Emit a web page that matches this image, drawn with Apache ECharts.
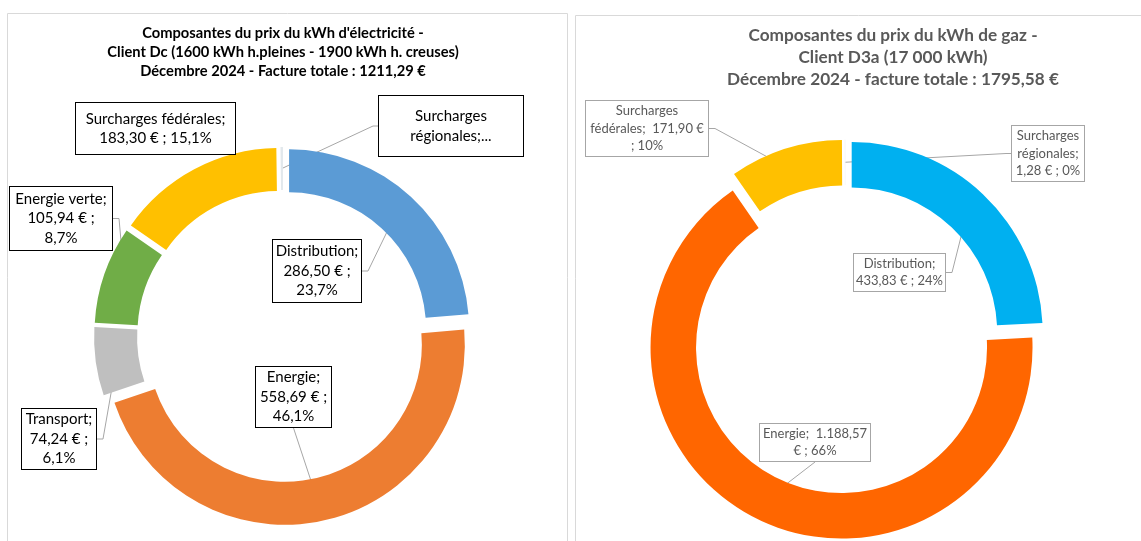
<!DOCTYPE html>
<html>
<head>
<meta charset="utf-8">
<script src="https://cdn.jsdelivr.net/npm/echarts@6/dist/echarts.min.js"></script>
<style>
html, body { margin: 0; padding: 0; background: #fff; }
#chart { width: 1141px; height: 541px; }
</style>
</head>
<body>
<div id="chart"></div>
<script>
// électricité - client Dc
const elecNames = ['Distribution', 'Energie', 'Transport', 'Energie verte', 'Surcharges fédérales', 'Surcharges régionales']
const elecValues = [286.50, 558.69, 74.24, 105.94, 183.30, 2.62]
const elecColors = ['#5B9BD5', '#ED7D31', '#BFBFBF', '#70AD47', '#FFC000', '#E2E8EC']

// gaz - client D3a
const gazNames = ['Distribution', 'Energie', 'Surcharges fédérales', 'Surcharges régionales']
const gazValues = [433.83, 1188.57, 171.90, 1.28]
const gazColors = ['#00B0F0', '#FF6600', '#FFC000', '#F4F4F4']

const elecTitle = "Composantes du prix du kWh d'électricité -\nClient Dc (1600 kWh h.pleines - 1900 kWh h. creuses)\nDécembre 2024 - Facture totale : 1211,29 €"
const gazTitle = 'Composantes du prix du kWh de gaz -\nClient D3a (17 000 kWh)\nDécembre 2024 - facture totale : 1795,58 €'

// modèles d'étiquettes : {n} nom, {v} valeur, {p} pourcentage
const elecLabelTpl = [
  '{n};\n{v} € ;\n{p}%',
  '{n};\n{v} € ;\n{p}%',
  '{n};\n{v} € ;\n{p}%',
  '{n};\n{v} € ;\n{p}%',
  '{n};\n{v} € ; {p}%',
  'Surcharges\nrégionales;...'
]
const gazLabelTpl = [
  '{n};\n{v} € ; {p}%',
  '{n};  {v}\n€ ; {p}%',
  'Surcharges\nfédérales;  {v} €\n; {p}%',
  'Surcharges\nrégionales;\n{v} € ; {p}%'
]

// boîtes des étiquettes : [x, y, largeur, hauteur, côté du trait]
const elecBoxes = [
  [272, 239, 90, 64, 'right'],
  [255, 366, 77, 62, 'bottom'],
  [21, 408, 76, 62, 'right'],
  [9, 186, 104, 65, 'right'],
  [75, 102, 161, 53, 'none'],
  [378, 95, 146, 62, 'left']
]
const gazBoxes = [
  [853, 253, 93, 39, 'right'],
  [759, 423, 112, 39, 'bottom'],
  [585, 100, 124, 57, 'right'],
  [1011, 125, 74, 57, 'left']
]

const explode = 9

const fmtNum = (v) => v.toLocaleString('de-DE', { minimumFractionDigits: 2, maximumFractionDigits: 2 })

// anneau éclaté (sans étiquettes)
function ringData (names, values, colors) {
  return names.map((n, i) => ({
    name: n,
    value: values[i],
    selected: true,
    itemStyle: { color: colors[i] }
  }))
}

// même anneau, transparent, qui porte les étiquettes
function labelData (names, values, tpl, boxes, digits, lineH) {
  const total = values.reduce((a, b) => a + b, 0)
  return names.map((n, i) => {
    const p = (values[i] / total * 100).toFixed(digits).replace('.', ',')
    const text = tpl[i].replace('{n}', n).replace('{v}', fmtNum(values[i])).replace('{p}', p)
    const lines = text.split('\n').length
    const b = boxes[i]
    const padY = Math.max(0, (b[3] - lines * lineH) / 2 - 1)
    return {
      name: n,
      value: values[i],
      label: { formatter: text, width: b[2] - 2, padding: [padY, 0] },
      labelLine: { show: b[4] !== 'none' }
    }
  })
}

const chart = echarts.init(document.getElementById('chart'))

function makeLayout (si, boxes) {
  return function (params) {
    const b = boxes[params.dataIndex]
    const lay = chart.getModel().getSeriesByIndex(si).getData().getItemLayout(params.dataIndex)
    const mid = (lay.startAngle + lay.endAngle) / 2
    const rr = (lay.r + lay.r0) / 2 + explode
    const ax = lay.cx + rr * Math.cos(mid)
    const ay = lay.cy + rr * Math.sin(mid)
    const x0 = b[0], y0 = b[1], w = b[2], h = b[3]
    let pts
    if (b[4] === 'right') {
      pts = [[x0 + w, y0 + h / 2], [x0 + w + 6, y0 + h / 2], [ax, ay]]
    } else if (b[4] === 'left') {
      pts = [[x0, y0 + h / 2], [x0 - 5, y0 + h / 2], [ax, ay]]
    } else if (b[4] === 'bottom') {
      pts = [[x0 + w / 2, y0 + h], [x0 + w / 2, y0 + h], [ax, ay]]
    } else {
      pts = [[x0, y0], [x0, y0], [x0, y0]]
    }
    return {
      x: x0 + w / 2,
      y: y0 + h / 2,
      align: 'center',
      verticalAlign: 'middle',
      labelLinePoints: pts
    }
  }
}

function ringSeries (center, radius, data) {
  return {
    type: 'pie',
    center: center,
    radius: radius,
    startAngle: 90,
    selectedMode: 'multiple',
    selectedOffset: explode,
    silent: true,
    emphasis: { disabled: true },
    label: { show: false },
    labelLine: { show: false },
    data: data
  }
}

function labelSeries (center, radius, si, boxes, data, font) {
  return {
    type: 'pie',
    center: center,
    radius: radius,
    startAngle: 90,
    silent: true,
    avoidLabelOverlap: false,
    emphasis: { disabled: true },
    itemStyle: { color: 'rgba(0,0,0,0)' },
    label: Object.assign({
      show: true,
      fontFamily: 'Lato',
      align: 'center',
      backgroundColor: '#fff',
      borderWidth: 1
    }, font),
    labelLine: { show: true, lineStyle: { color: '#a6a6a6', width: 1 } },
    labelLayout: makeLayout(si, boxes),
    data: data
  }
}

const options = {
  animation: false,
  title: [
    {
      text: elecTitle,
      left: 283,
      top: 24,
      textAlign: 'center',
      padding: 0,
      textStyle: { fontFamily: 'Lato', fontSize: 14.7, fontWeight: 'bold', color: '#000', lineHeight: 19 }
    },
    {
      text: gazTitle,
      left: 893,
      top: 24,
      textAlign: 'center',
      padding: 0,
      textStyle: { fontFamily: 'Lato', fontSize: 17.2, fontWeight: 'bold', color: '#595959', lineHeight: 22 }
    }
  ],
  // cadres des deux graphiques
  graphic: [
    { type: 'rect', shape: { x: 7.5, y: 13.5, width: 560, height: 600 }, style: { fill: 'none', stroke: '#d9d9d9', lineWidth: 1 }, silent: true },
    { type: 'rect', shape: { x: 575.5, y: 15.5, width: 700, height: 600 }, style: { fill: 'none', stroke: '#d9d9d9', lineWidth: 1 }, silent: true }
  ],
  series: [
    ringSeries([283, 336], [137, 180], ringData(elecNames, elecValues, elecColors)),
    ringSeries([845.5, 339.5], [145.5, 191], ringData(gazNames, gazValues, gazColors)),
    labelSeries([283, 336], [137, 180], 0, elecBoxes,
      labelData(elecNames, elecValues, elecLabelTpl, elecBoxes, 1, 19.5),
      { fontSize: 15, lineHeight: 19.5, color: '#000', borderColor: '#000' }),
    labelSeries([845.5, 339.5], [145.5, 191], 1, gazBoxes,
      labelData(gazNames, gazValues, gazLabelTpl, gazBoxes, 0, 17.5),
      { fontSize: 13, lineHeight: 17.5, color: '#595959', borderColor: '#a6a6a6' })
  ]
}

chart.setOption(options)
</script>
</body>
</html>
